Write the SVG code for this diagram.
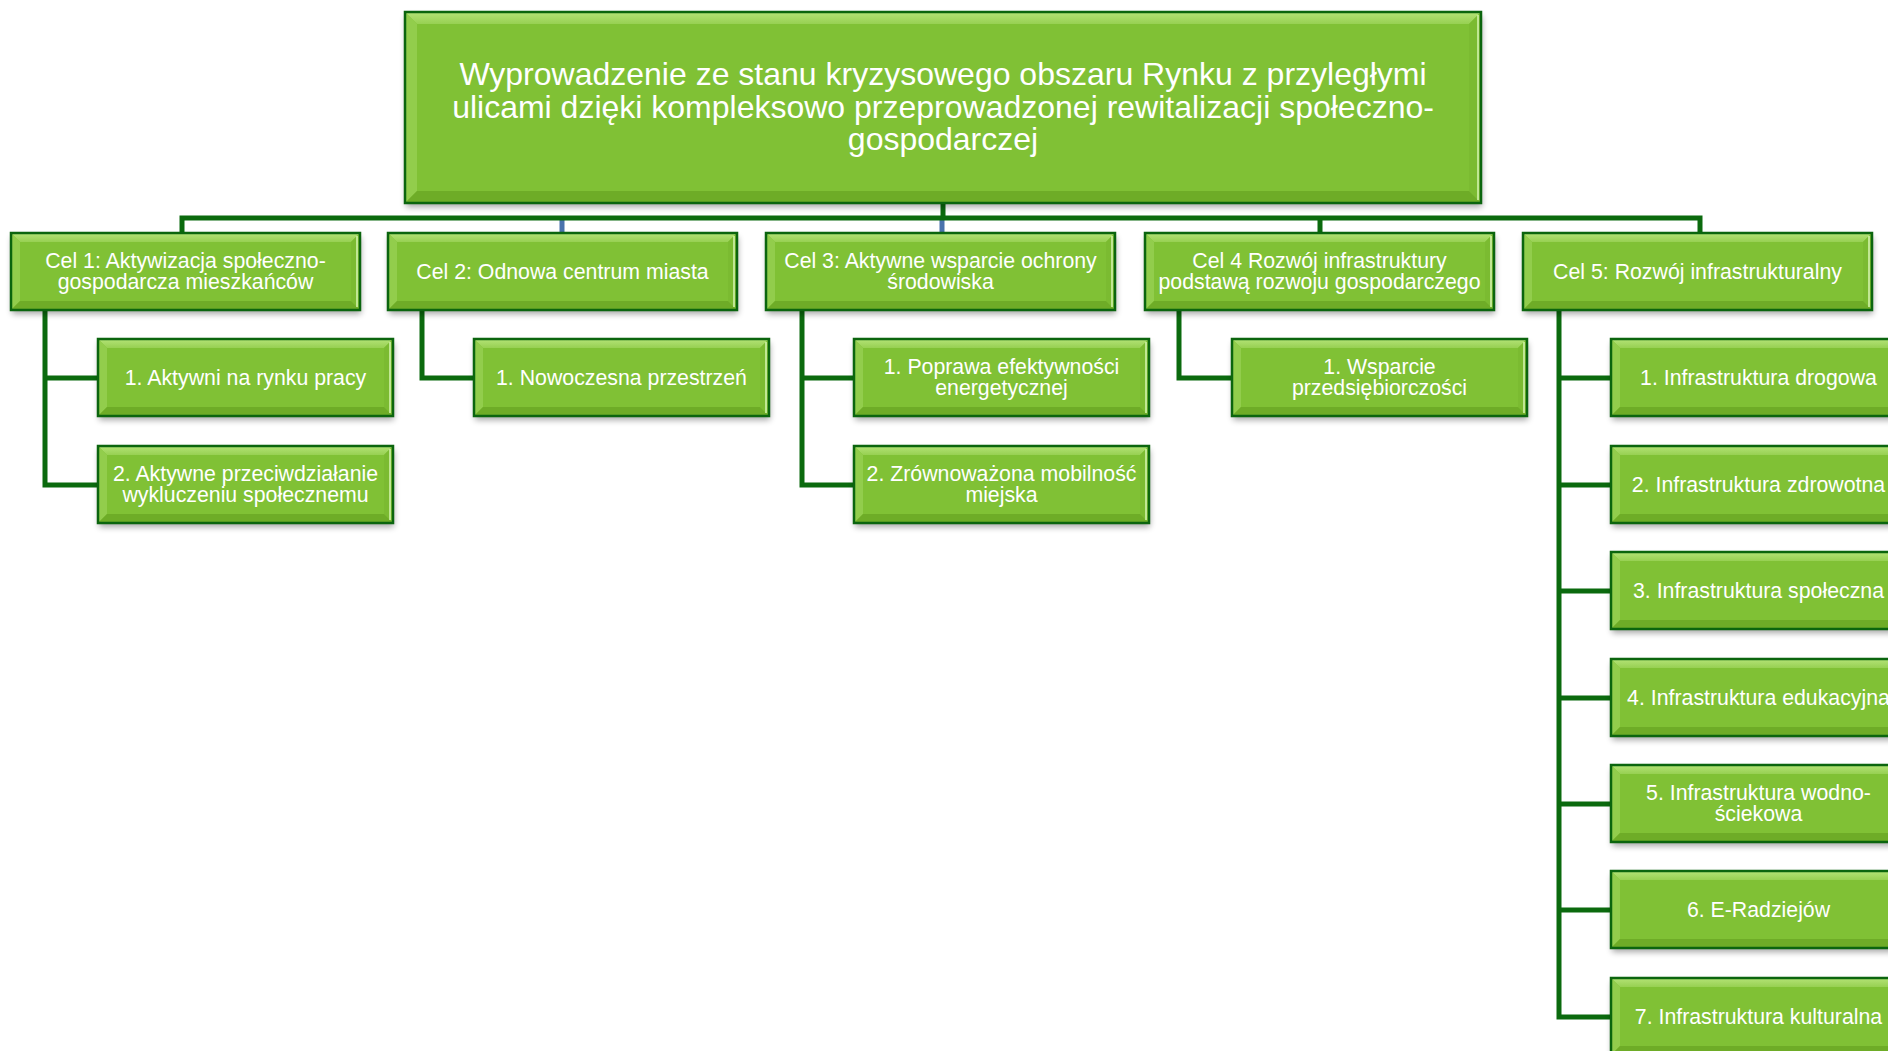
<svg xmlns="http://www.w3.org/2000/svg" xmlns:xlink="http://www.w3.org/1999/xlink" width="1888" height="1051" viewBox="0 0 1888 1051">
<style>
.ln{fill:none;stroke:#0b6a0e;stroke-width:5;stroke-linejoin:miter;stroke-linecap:butt}
.lb{fill:none;stroke:#4a72ad;stroke-width:5}
.t{font-family:"Liberation Sans",Arial,sans-serif;font-size:21.3px;fill:#ffffff;text-anchor:middle}
.tr{font-family:"Liberation Sans",Arial,sans-serif;font-size:32px;fill:#ffffff;text-anchor:middle}
.face{fill:#80c135}
.bl{fill:#92cd4c}
.br{fill:#7bbb31}
.bb{fill:#6eac27}
.hl{stroke:#d9f6b4;stroke-width:1.5;fill:none}
.bd{fill:none;stroke:#0b650e;stroke-width:2.5}
.sh{fill:#000;opacity:.35}
</style>
<defs>
<filter id="blur" x="-10%" y="-20%" width="120%" height="150%"><feGaussianBlur stdDeviation="3"/></filter>
<linearGradient id="gTop" x1="0" y1="0" x2="0" y2="1"><stop offset="0" stop-color="#b4e377"/><stop offset="1" stop-color="#97d052"/></linearGradient>
<g id="box-cel">
<rect class="sh" x="1" y="4" width="349" height="77" filter="url(#blur)"/>
<rect class="face" x="0" y="0" width="349" height="77"/>
<polygon fill="url(#gTop)" points="0,0 349,0 340,9 9,9"/>
<polygon class="bl" points="0,0 9,9 9,68 0,77"/>
<polygon class="br" points="349,0 349,77 340,68 340,9"/>
<polygon class="bb" points="0,77 349,77 340,68 9,68"/>
<line class="hl" x1="346" y1="3" x2="346" y2="74"/>
<rect class="bd" x="0" y="0" width="349" height="77"/>
</g>
<g id="box-sub">
<rect class="sh" x="1" y="4" width="295" height="77" filter="url(#blur)"/>
<rect class="face" x="0" y="0" width="295" height="77"/>
<polygon fill="url(#gTop)" points="0,0 295,0 286,9 9,9"/>
<polygon class="bl" points="0,0 9,9 9,68 0,77"/>
<polygon class="br" points="295,0 295,77 286,68 286,9"/>
<polygon class="bb" points="0,77 295,77 286,68 9,68"/>
<line class="hl" x1="292" y1="3" x2="292" y2="74"/>
<rect class="bd" x="0" y="0" width="295" height="77"/>
</g>
</defs>
<rect width="1888" height="1051" fill="#ffffff"/>

<g id="connectors">
<path class="lb" d="M562 216 V233 M942 216 V233"/>
<path class="ln" d="M182 233 V218 H1700 V233 M943 203 V218 M1320 218 V233"/>
<path class="ln" d="M45 310 V485 H98 M45 378 H98"/>
<path class="ln" d="M422 310 V378 H474"/>
<path class="ln" d="M802 310 V485 H854 M802 378 H854"/>
<path class="ln" d="M1179 310 V378 H1232"/>
<path class="ln" d="M1559 310 V1017 H1611 M1559 378 H1611 M1559 485 H1611 M1559 591 H1611 M1559 698 H1611 M1559 804 H1611 M1559 910 H1611"/>
</g>

<g id="root">
<rect class="sh" x="406" y="16" width="1076" height="191" filter="url(#blur)"/>
<rect class="face" x="405" y="12" width="1076" height="191"/>
<polygon fill="url(#gTop)" points="405,12 1481,12 1469,24 417,24"/>
<polygon class="bl" points="405,12 417,24 417,191 405,203"/>
<polygon class="br" points="1481,12 1481,203 1469,191 1469,24"/>
<polygon class="bb" points="405,203 1481,203 1469,191 417,191"/>
<line class="hl" x1="1478" y1="15" x2="1478" y2="200"/>
<rect class="bd" x="405" y="12" width="1076" height="191"/>
<text class="tr" x="943" y="85">Wyprowadzenie ze stanu kryzysowego obszaru Rynku z przyległymi</text>
<text class="tr" x="943" y="117.5">ulicami dzięki kompleksowo przeprowadzonej rewitalizacji społeczno-</text>
<text class="tr" x="943" y="150">gospodarczej</text>
</g>

<g id="cel1"><use href="#box-cel" x="11" y="233"/>
<text class="t" x="185.5" y="268">Cel 1: Aktywizacja społeczno-</text>
<text class="t" x="185.5" y="289">gospodarcza mieszkańców</text></g>
<g id="cel2"><use href="#box-cel" x="388" y="233"/>
<text class="t" x="562.5" y="279">Cel 2: Odnowa centrum miasta</text></g>
<g id="cel3"><use href="#box-cel" x="766" y="233"/>
<text class="t" x="940.5" y="268">Cel 3: Aktywne wsparcie ochrony</text>
<text class="t" x="940.5" y="289">środowiska</text></g>
<g id="cel4"><use href="#box-cel" x="1145" y="233"/>
<text class="t" x="1319.5" y="268">Cel 4 Rozwój infrastruktury</text>
<text class="t" x="1319.5" y="289">podstawą rozwoju gospodarczego</text></g>
<g id="cel5"><use href="#box-cel" x="1523" y="233"/>
<text class="t" x="1697.5" y="279">Cel 5: Rozwój infrastrukturalny</text></g>

<g id="c1-1"><use href="#box-sub" x="98" y="339"/>
<text class="t" x="245.5" y="385">1. Aktywni na rynku pracy</text></g>
<g id="c1-2"><use href="#box-sub" x="98" y="446"/>
<text class="t" x="245.5" y="481">2. Aktywne przeciwdziałanie</text>
<text class="t" x="245.5" y="502">wykluczeniu społecznemu</text></g>
<g id="c2-1"><use href="#box-sub" x="474" y="339"/>
<text class="t" x="621.5" y="385">1. Nowoczesna przestrzeń</text></g>
<g id="c3-1"><use href="#box-sub" x="854" y="339"/>
<text class="t" x="1001.5" y="374">1. Poprawa efektywności</text>
<text class="t" x="1001.5" y="395">energetycznej</text></g>
<g id="c3-2"><use href="#box-sub" x="854" y="446"/>
<text class="t" x="1001.5" y="481">2. Zrównoważona mobilność</text>
<text class="t" x="1001.5" y="502">miejska</text></g>
<g id="c4-1"><use href="#box-sub" x="1232" y="339"/>
<text class="t" x="1379.5" y="374">1. Wsparcie</text>
<text class="t" x="1379.5" y="395">przedsiębiorczości</text></g>

<g id="c5-1"><use href="#box-sub" x="1611" y="339"/>
<text class="t" x="1758.5" y="385">1. Infrastruktura drogowa</text></g>
<g id="c5-2"><use href="#box-sub" x="1611" y="446"/>
<text class="t" x="1758.5" y="492">2. Infrastruktura zdrowotna</text></g>
<g id="c5-3"><use href="#box-sub" x="1611" y="552"/>
<text class="t" x="1758.5" y="598">3. Infrastruktura społeczna</text></g>
<g id="c5-4"><use href="#box-sub" x="1611" y="659"/>
<text class="t" x="1758.5" y="705">4. Infrastruktura edukacyjna</text></g>
<g id="c5-5"><use href="#box-sub" x="1611" y="765"/>
<text class="t" x="1758.5" y="800">5. Infrastruktura wodno-</text>
<text class="t" x="1758.5" y="821">ściekowa</text></g>
<g id="c5-6"><use href="#box-sub" x="1611" y="871"/>
<text class="t" x="1758.5" y="917">6. E-Radziejów</text></g>
<g id="c5-7"><use href="#box-sub" x="1611" y="978"/>
<text class="t" x="1758.5" y="1024">7. Infrastruktura kulturalna</text></g>
</svg>
